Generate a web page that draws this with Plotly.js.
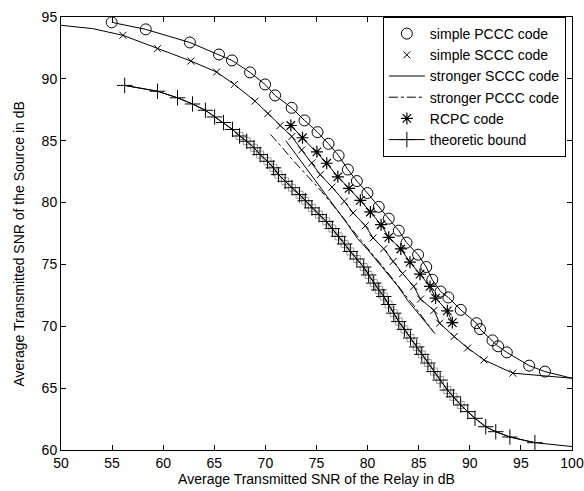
<!DOCTYPE html>
<html><head><meta charset="utf-8">
<script src="https://cdn.plot.ly/plotly-3.0.1.min.js"></script>
<style>html,body{margin:0;padding:0;background:#fff}</style>
</head><body><div id="chart" style="width:584px;height:491px"></div>
<script>
// simple PCCC code (circles)
const pcccX = [54.96,58.29,62.61,65.46,66.73,68.50,69.97,70.95,72.57,73.83,75.10,76.18,77.16,78.07,78.95,79.98,81.09,82.07,83.05,83.81,84.94,85.74,86.33,87.14,87.90,89.11,90.65,91.00,92.22,92.77,93.62,95.81,97.35];
const pcccY = [94.57,94.00,92.94,91.97,91.49,90.52,89.55,88.66,87.66,86.64,85.69,84.75,83.80,82.67,81.74,80.77,79.65,78.70,77.73,76.76,75.79,74.79,73.76,72.81,72.33,71.33,70.25,69.77,68.86,68.38,67.89,66.82,66.34];
const pcccTailX = [100];
const pcccTailY = [65.8];

// simple SCCC code (x marks)
const scccX = [56.06,59.44,62.71,65.23,66.96,68.99,70.24,71.44,72.59,73.55,74.55,75.37,76.52,77.72,78.58,79.78,80.54,81.58,82.50,83.43,84.52,85.18,86.49,87.05,88.47,89.79,91.39,94.21];
const scccY = [93.52,92.44,91.44,90.55,89.55,88.20,87.20,86.23,85.34,84.25,83.21,82.26,81.25,80.10,79.16,78.13,77.14,76.27,75.24,74.26,73.22,72.20,71.28,70.25,69.17,68.25,67.28,66.21];
const scccHeadX = [50, 53.1];
const scccHeadY = [94.33, 94.06];
const scccTailX = [100];
const scccTailY = [65.8];

// stronger SCCC code (solid)
const strSX = [72.0,73.0,74.0,75.0,76.0,77.0,78.0,79.0,80.0,81.0,82.0,83.0,84.0,85.0,86.0,86.6];
const strSY = [85.0,83.9,82.7,81.6,80.5,79.5,78.3,77.1,76.2,75.2,74.2,73.2,72.0,71.0,70.0,69.4];

// stronger PCCC code (dash-dot)
const strPX = [70.5,71.5,72.5,73.5,74.5,75.5,76.5,77.5,78.5,79.5,80.5,81.5,82.5,83.5,84.5,85.5,86.4];
const strPY = [85.5,84.6,83.6,82.7,81.8,80.9,79.9,78.9,77.8,76.8,75.8,74.8,73.8,72.7,71.7,70.6,69.6];

// RCPC code (stars)
const rcpcX = [72.49,73.63,75.04,76.00,77.09,78.18,79.29,80.27,81.32,82.07,83.25,84.15,85.13,86.11,86.65,87.80,88.29];
const rcpcY = [86.23,85.24,84.10,83.18,82.08,81.15,80.18,79.24,78.21,77.19,76.25,75.18,74.21,73.22,72.28,71.25,70.30];

// theoretic bound (+)
const boundX = [56.23,59.44,61.40,62.87,64.13,65.03,65.90,66.78,67.47,68.17,68.89,69.48,70.20,70.78,71.28,71.93,72.60,73.34,73.90,74.55,75.25,75.96,76.55,77.16,77.75,78.31,78.95,79.62,80.10,80.60,81.10,81.58,82.05,82.56,83.05,83.60,84.20,84.80,85.30,85.90,86.49,87.10,87.80,88.40,89.11,89.80,90.51,91.56,92.54,93.92,96.37];
const boundY = [89.47,89.00,88.47,87.97,87.46,86.92,86.47,85.91,85.38,84.96,84.43,83.88,83.34,82.81,82.26,81.72,81.20,80.64,80.15,79.57,79.03,78.48,77.90,77.27,76.65,76.05,75.44,74.79,74.15,73.49,72.94,72.41,71.76,71.06,70.38,69.75,69.05,68.33,67.73,67.03,66.34,65.65,64.85,64.30,63.64,63.10,62.56,61.88,61.48,61.05,60.59];
const boundTailX = [100];
const boundTailY = [60.28];

// grey squares overlaid on the bound
const sqX = [67.47,68.17,68.89,69.48,70.20,70.78,71.28,71.93,72.60,73.34,73.90,74.55,75.25,75.96,76.55,77.16,77.75,78.31,78.95,79.62,80.10,80.60,81.10,81.58,82.05,82.56,83.05,83.60,84.20,84.80,85.30,85.90,86.49,87.10,87.80,88.40,89.11];
const sqY = [85.38,84.96,84.43,83.88,83.34,82.81,82.26,81.72,81.20,80.64,80.15,79.57,79.03,78.48,77.90,77.27,76.65,76.05,75.44,74.79,74.15,73.49,72.94,72.41,71.76,71.06,70.38,69.75,69.05,68.33,67.73,67.03,66.34,65.65,64.85,64.30,63.64];

const xTicks = [50,55,60,65,70,75,80,85,90,95,100];
const yTicks = [60,65,70,75,80,85,90,95];
const xTitle = 'Average Transmitted SNR of the Relay in dB';
const yTitle = 'Average Transmitted SNR of the Source in dB';

const blk = '#000';
const traces = [
  {x: sqX, y: sqY, mode:'markers', marker:{symbol:'square-open', size:7, color:'#9a9a9a', line:{width:1,color:'#9a9a9a'}}, showlegend:false, hoverinfo:'skip'},
  {x: pcccX.concat(pcccTailX), y: pcccY.concat(pcccTailY), mode:'lines', line:{color:blk,width:1}, showlegend:false, hoverinfo:'skip'},
  {x: scccHeadX.concat(scccX, scccTailX), y: scccHeadY.concat(scccY, scccTailY), mode:'lines', line:{color:blk,width:1}, showlegend:false, hoverinfo:'skip'},
  {x: rcpcX, y: rcpcY, mode:'lines', line:{color:blk,width:1}, showlegend:false, hoverinfo:'skip'},
  {x: boundX.concat(boundTailX), y: boundY.concat(boundTailY), mode:'lines', line:{color:blk,width:1}, showlegend:false, hoverinfo:'skip'},
  {x: pcccX, y: pcccY, name:'simple PCCC code', mode:'markers', legendrank:1, marker:{symbol:'circle-open', size:11, color:blk, line:{width:1,color:blk}}},
  {x: scccX, y: scccY, name:'simple SCCC code', mode:'markers', legendrank:2, marker:{symbol:'x-thin-open', size:7, color:blk, line:{width:1,color:blk}}},
  {x: strSX, y: strSY, name:'stronger SCCC code', mode:'lines', legendrank:3, line:{color:blk,width:1}},
  {x: strPX, y: strPY, name:'stronger PCCC code', mode:'lines', legendrank:4, line:{color:blk,width:1,dash:'dashdot'}},
  {x: rcpcX, y: rcpcY, name:'RCPC code', mode:'markers', legendrank:5, marker:{symbol:'asterisk-open', size:10, color:blk, line:{width:1.2,color:blk}}},
  {x: boundX, y: boundY, name:'theoretic bound', mode:'lines+markers', legendrank:6, line:{color:blk,width:1}, marker:{symbol:'cross-thin-open', size:11, color:blk, line:{width:1,color:blk}}}
];

const ff = 'Arial, "Liberation Sans", sans-serif';
const layout = {
  width:584, height:491,
  margin:{l:61, r:12, t:17, b:41},
  paper_bgcolor:'#fff', plot_bgcolor:'#fff',
  font:{family:ff, color:blk, size:14},
  showlegend:true,
  xaxis:{range:[50,100], tickvals:xTicks, ticktext:xTicks.map(String), ticks:'inside', ticklen:5, tickcolor:blk,
    mirror:'ticks', showline:true, linecolor:blk, linewidth:1, showgrid:false, zeroline:false,
    tickfont:{size:14, family:ff}, title:{text:xTitle, font:{size:14, family:ff}, standoff:2}},
  yaxis:{range:[60,95], tickvals:yTicks, ticktext:yTicks.map(String), ticks:'inside', ticklen:5, tickcolor:blk,
    mirror:'ticks', showline:true, linecolor:blk, linewidth:1, showgrid:false, zeroline:false,
    tickfont:{size:14, family:ff}},
  annotations:[{text:yTitle, xref:'paper', yref:'paper', x:0, y:0.5, xanchor:'center', yanchor:'middle',
    xshift:-43, yshift:-11, textangle:-90, showarrow:false, font:{size:14, family:ff, color:blk}}],
  legend:{x:0.988, y:1, xanchor:'right', yanchor:'top', bordercolor:blk, borderwidth:1, bgcolor:'#fff',
    font:{size:14, family:ff}, itemwidth:36, tracegroupgap:0}
};
Plotly.newPlot('chart', traces, layout, {staticPlot:true, displayModeBar:false});
</script></body></html>
